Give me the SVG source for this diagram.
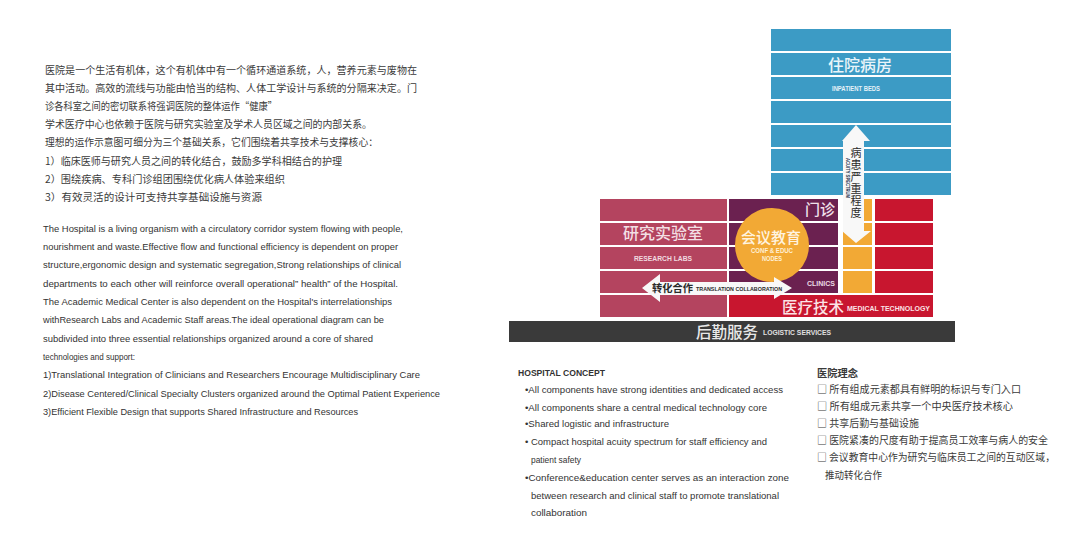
<svg xmlns="http://www.w3.org/2000/svg" width="1080" height="542" viewBox="0 0 1080 542">
<defs>
<style>
.bg{fill:#ffffff}
.cn{font-family:"Noto Sans CJK SC","Noto Sans",sans-serif;font-size:10px;fill:#3a3a3a}
.en{font-family:"Liberation Sans","DejaVu Sans",sans-serif;font-size:9.5px;fill:#333333}
.blue{fill:#3c9bc5}
.pink{fill:#b4445f}
.purple{fill:#6b2150}
.orange{fill:#f2a935}
.red{fill:#c8162f}
.bar{fill:#3a3a3a}
.lblcn{font-family:"Noto Sans CJK SC",sans-serif;font-weight:500}
.lblen{font-family:"Liberation Sans",sans-serif;font-weight:bold}
.arrow{fill:#f8f8f8}
</style>
</defs>
<rect class="bg" x="0" y="0" width="1080" height="542"/>

<g id="text-cn">
<text class="cn" x="45" y="73.5" textLength="372" lengthAdjust="spacingAndGlyphs">医院是一个生活有机体，这个有机体中有一个循环通道系统，人，营养元素与废物在</text>
<text class="cn" x="45" y="91.7" textLength="372" lengthAdjust="spacingAndGlyphs">其中活动。高效的流线与功能由恰当的结构、人体工学设计与系统的分隔来决定。门</text>
<text class="cn" x="45" y="109.9" textLength="232" lengthAdjust="spacingAndGlyphs">诊各科室之间的密切联系将强调医院的整体运作“健康”</text>
<text class="cn" x="45" y="128.1" textLength="327" lengthAdjust="spacingAndGlyphs">学术医疗中心也依赖于医院与研究实验室及学术人员区域之间的内部关系。</text>
<text class="cn" x="45" y="146.3" textLength="333" lengthAdjust="spacingAndGlyphs">理想的运作示意图可细分为三个基础关系，它们围绕着共享技术与支撑核心：</text>
<text class="cn" x="45" y="164.5" textLength="297" lengthAdjust="spacingAndGlyphs">1）临床医师与研究人员之间的转化结合，鼓励多学科相结合的护理</text>
<text class="cn" x="45" y="182.7" textLength="240" lengthAdjust="spacingAndGlyphs">2）围绕疾病、专科门诊组团围绕优化病人体验来组织</text>
<text class="cn" x="45" y="200.9" textLength="217" lengthAdjust="spacingAndGlyphs">3）有效灵活的设计可支持共享基础设施与资源</text>
</g>

<g id="text-en">
<text class="en" x="43" y="231.5" textLength="360" lengthAdjust="spacingAndGlyphs">The Hospital is a living organism with a circulatory corridor system flowing with people,</text>
<text class="en" x="43" y="249.8" textLength="355" lengthAdjust="spacingAndGlyphs">nourishment and waste.Effective flow and functional efficiency is dependent on proper</text>
<text class="en" x="43" y="268.2" textLength="358" lengthAdjust="spacingAndGlyphs">structure,ergonomic design and systematic segregation,Strong relationships of clinical</text>
<text class="en" x="43" y="286.5" textLength="355" lengthAdjust="spacingAndGlyphs">departments to each other will reinforce overall operational”  health”  of the Hospital.</text>
<text class="en" x="43" y="304.8" textLength="349" lengthAdjust="spacingAndGlyphs">The Academic Medical Center is also dependent on the Hospital's interrelationships</text>
<text class="en" x="43" y="323.2" textLength="341" lengthAdjust="spacingAndGlyphs">withResearch Labs and Academic Staff areas.The ideal operational diagram can be</text>
<text class="en" x="43" y="341.5" textLength="330" lengthAdjust="spacingAndGlyphs">subdivided into three essential relationships organized around a core of shared</text>
<text class="en" x="43" y="359.8" textLength="92" lengthAdjust="spacingAndGlyphs">technologies and support:</text>
<text class="en" x="43" y="378.2" textLength="377" lengthAdjust="spacingAndGlyphs">1)Translational Integration of Clinicians and Researchers Encourage Multidisciplinary Care</text>
<text class="en" x="43" y="396.5" textLength="397" lengthAdjust="spacingAndGlyphs">2)Disease Centered/Clinical Specialty Clusters organized around the Optimal Patient Experience</text>
<text class="en" x="43" y="414.8" textLength="315" lengthAdjust="spacingAndGlyphs">3)Efficient Flexible Design that supports Shared Infrastructure and Resources</text>
</g>

<g id="inpatient-beds">
<rect class="blue" x="771" y="29" width="180" height="22"/>
<rect class="blue" x="771" y="53" width="180" height="22"/>
<rect class="blue" x="771" y="77" width="180" height="22"/>
<rect class="blue" x="771" y="101" width="180" height="22"/>
<rect class="blue" x="771" y="125" width="180" height="22"/>
<rect class="blue" x="771" y="149" width="180" height="22"/>
<rect class="blue" x="771" y="173" width="180" height="22"/>
<text class="lblcn" x="860" y="71" font-size="16" fill="#eaf5fa" text-anchor="middle">住院病房</text>
<text class="lblen" x="832" y="91" font-size="7.5" fill="#e6f2f8" textLength="48" lengthAdjust="spacingAndGlyphs">INPATIENT BEDS</text>
</g>

<g id="research-labs">
<rect class="pink" x="600" y="199" width="127" height="22"/>
<rect class="pink" x="600" y="223" width="127" height="22"/>
<rect class="pink" x="600" y="247" width="127" height="22"/>
<rect class="pink" x="600" y="271" width="127" height="22"/>
<rect class="pink" x="600" y="295" width="127" height="22"/>
<text class="lblcn" x="663" y="239" font-size="16" fill="#f3dfe4" text-anchor="middle">研究实验室</text>
<text class="lblen" x="634" y="261" font-size="8" fill="#f1dbe0" textLength="58" lengthAdjust="spacingAndGlyphs">RESEARCH LABS</text>
</g>

<g id="clinics">
<rect class="purple" x="729" y="199" width="109" height="22"/>
<rect class="purple" x="729" y="223" width="109" height="22"/>
<rect class="purple" x="729" y="247" width="109" height="22"/>
<rect class="purple" x="729" y="271" width="109" height="22"/>
<rect class="orange" x="843" y="199" width="29" height="22"/>
<rect class="orange" x="843" y="223" width="29" height="22"/>
<rect class="orange" x="843" y="247" width="29" height="22"/>
<rect class="orange" x="843" y="271" width="29" height="22"/>
<rect class="red" x="875" y="199" width="58" height="22"/>
<rect class="red" x="875" y="223" width="58" height="22"/>
<rect class="red" x="875" y="247" width="58" height="22"/>
<rect class="red" x="875" y="271" width="58" height="22"/>
<text class="lblcn" x="835" y="215" font-size="15" fill="#f0e0ea" text-anchor="end">门诊</text>
<text class="lblen" x="807" y="286" font-size="8" fill="#eadbe4" textLength="28" lengthAdjust="spacingAndGlyphs">CLINICS</text>
</g>

<g id="medical-technology">
<rect class="red" x="729" y="295" width="204" height="22"/>
<text class="lblcn" x="782" y="312.5" font-size="15.5" fill="#fbe3e6">医疗技术</text>
<text class="lblen" x="847" y="310.5" font-size="8" fill="#fbe3e6" textLength="83" lengthAdjust="spacingAndGlyphs">MEDICAL TECHNOLOGY</text>
</g>

<g id="conference-education">
<circle class="orange" cx="772" cy="245" r="37"/>
<text class="lblcn" x="771" y="242.5" font-size="15" fill="#fff4e0" text-anchor="middle">会议教育</text>
<text class="lblen" x="751" y="252.5" font-size="7" fill="#fff0d6" textLength="42" lengthAdjust="spacingAndGlyphs">CONF &amp; EDUC</text>
<text class="lblen" x="762" y="261" font-size="7" fill="#fff0d6" textLength="20" lengthAdjust="spacingAndGlyphs">NODES</text>
</g>

<g id="logistic-services">
<rect class="bar" x="509" y="321" width="446" height="21"/>
<text class="lblcn" x="696" y="337.5" font-size="15.5" fill="#e8e8e8">后勤服务</text>
<text class="lblen" x="763" y="335" font-size="7.5" fill="#e0e0e0" textLength="68" lengthAdjust="spacingAndGlyphs">LOGISTIC SERVICES</text>
</g>

<g id="connectors">
<path class="arrow" d="M856,125 L870,141 L864,141 L864,231 L871,231 L856,243 L842,231 L843,231 L843,141 L842,141 Z"/>
<text x="846" y="158" font-family="Liberation Sans,sans-serif" font-weight="bold" font-size="6" fill="#2a3550" transform="rotate(90 846 158)" textLength="40" lengthAdjust="spacingAndGlyphs">ACUITY SPECTRUM</text>
<text x="856" y="147" font-family="Noto Sans CJK SC,sans-serif" font-size="11" fill="#2a2a2a" style="writing-mode:vertical-rl" letter-spacing="1">病患严重程度</text>
<path class="arrow" d="M642,288 L660,274 L660,282 L774,282 L774,277 L792,288 L774,299 L774,295 L660,295 L660,302 Z"/>
<text x="652" y="292" font-family="Noto Sans CJK SC,sans-serif" font-weight="bold" font-size="10.5" fill="#2a2a2a" textLength="41" lengthAdjust="spacingAndGlyphs">转化合作</text>
<text x="696" y="291" font-family="Liberation Sans,sans-serif" font-weight="bold" font-size="6" fill="#2a2a2a" textLength="86" lengthAdjust="spacingAndGlyphs">TRANSLATION COLLABORATION</text>
</g>

<g id="hospital-concept">
<text class="en" x="518" y="375.5" font-weight="bold" fill="#222" textLength="87" lengthAdjust="spacingAndGlyphs">HOSPITAL CONCEPT</text>
<text class="en" x="525" y="392.5" textLength="258" lengthAdjust="spacingAndGlyphs">•All components have strong identities and dedicated access</text>
<text class="en" x="525" y="410.5" textLength="242" lengthAdjust="spacingAndGlyphs">•All components share a central medical technology core</text>
<text class="en" x="525" y="426.5" textLength="144" lengthAdjust="spacingAndGlyphs">•Shared logistic and infrastructure</text>
<text class="en" x="525" y="444.5" textLength="242" lengthAdjust="spacingAndGlyphs">• Compact hospital acuity spectrum for staff efficiency and</text>
<text class="en" x="531" y="462.5" textLength="50" lengthAdjust="spacingAndGlyphs">patient safety</text>
<text class="en" x="525" y="480.5" textLength="264" lengthAdjust="spacingAndGlyphs">•Conference&amp;education center serves as an interaction zone</text>
<text class="en" x="531" y="498.5" textLength="248" lengthAdjust="spacingAndGlyphs">between research and clinical staff to promote translational</text>
<text class="en" x="531" y="515.5" textLength="56" lengthAdjust="spacingAndGlyphs">collaboration</text>
</g>

<g id="hospital-concept-cn">
<text class="cn" x="817" y="377" font-weight="bold" fill="#222" textLength="41" lengthAdjust="spacingAndGlyphs">医院理念</text>
<text class="cn" x="817" y="393" textLength="204" lengthAdjust="spacingAndGlyphs">□ 所有组成元素都具有鲜明的标识与专门入口</text>
<text class="cn" x="817" y="410" textLength="196" lengthAdjust="spacingAndGlyphs">□  所有组成元素共享一个中央医疗技术核心</text>
<text class="cn" x="817" y="427" textLength="102" lengthAdjust="spacingAndGlyphs">□ 共享后勤与基础设施</text>
<text class="cn" x="817" y="444" textLength="231" lengthAdjust="spacingAndGlyphs">□ 医院紧凑的尺度有助于提高员工效率与病人的安全</text>
<text class="cn" x="817" y="461" textLength="238" lengthAdjust="spacingAndGlyphs">□ 会议教育中心作为研究与临床员工之间的互动区域，</text>
<text class="cn" x="825" y="479" textLength="57" lengthAdjust="spacingAndGlyphs">推动转化合作</text>
</g>
</svg>
